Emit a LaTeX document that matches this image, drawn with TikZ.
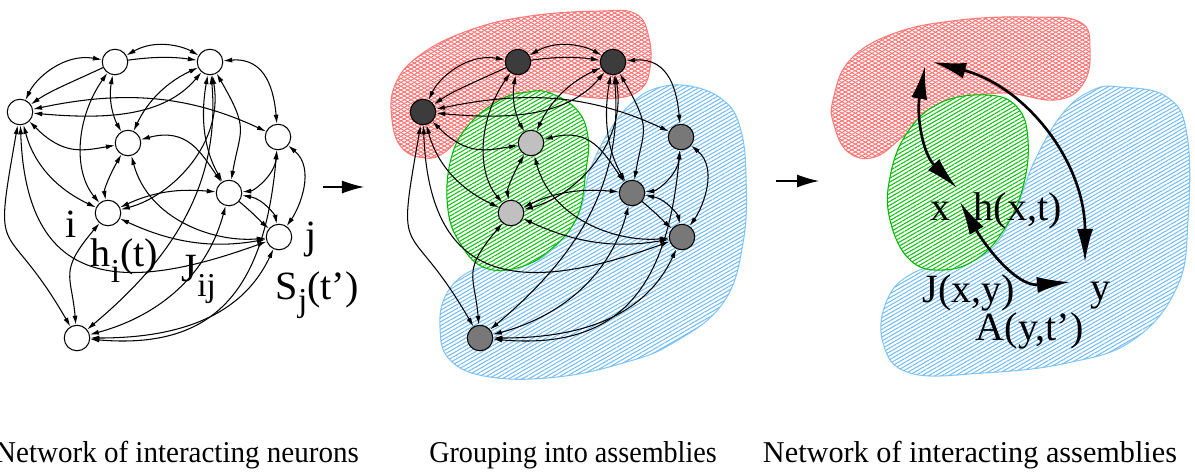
\documentclass[tikz,border=0pt]{standalone}
\usepackage{fontspec}
\setmainfont{Liberation Serif}
\usetikzlibrary{arrows.meta,patterns.meta}
\definecolor{redhatch}{RGB}{255,115,115}
\definecolor{redline}{RGB}{245,130,130}
\definecolor{greenhatch}{RGB}{10,195,10}
\definecolor{greenline}{RGB}{0,185,0}
\definecolor{bluehatch}{RGB}{115,188,240}
\definecolor{blueline}{RGB}{135,200,250}
\definecolor{darknode}{RGB}{60,60,60}
\definecolor{lightnode}{RGB}{192,192,192}
\definecolor{midnode}{RGB}{120,120,120}
\tikzset{
  nd/.style={circle, draw=black, line width=0.3pt, minimum size=0.255cm, inner sep=0pt},
  e/.style={line width=0.3pt, {Latex[length=0.09cm,width=0.05cm]}-{Latex[length=0.09cm,width=0.05cm]}},
  eone/.style={line width=0.3pt, -{Latex[length=0.09cm,width=0.05cm]}},
  bigarrow/.style={line width=0.75pt, {Latex[length=0.33cm,width=0.16cm]}-{Latex[length=0.33cm,width=0.16cm]}},
  panelarrow/.style={line width=0.35pt, -{Latex[length=0.22cm,width=0.13cm]}},
  lbl/.style={inner sep=0pt, anchor=base west, font=\fontsize{11.4pt}{13pt}\selectfont},
  captext/.style={inner sep=0pt, anchor=base, font=\fontsize{8.6pt}{10pt}\selectfont},
  redblob/.style={draw=redline, line width=0.3pt,
    postaction={pattern={Lines[angle=30,distance=0.95pt,line width=0.28pt]}, pattern color=redhatch},
    postaction={pattern={Lines[angle=-30,distance=0.95pt,line width=0.28pt]}, pattern color=redhatch}},
  blueblob/.style={draw=blueline, line width=0.3pt, fill=white,
    postaction={pattern={Lines[angle=30,distance=0.95pt,line width=0.3pt]}, pattern color=bluehatch}},
  greenblob/.style={draw=greenline, line width=0.3pt, fill=white,
    postaction={pattern={Lines[angle=30,distance=0.95pt,line width=0.3pt]}, pattern color=greenhatch}},
}
\newcommand\netedges{%
  \draw[e] (A) to[out=30,in=150] (B);
  \draw[eone] (A) to[out=8,in=172] (B);
  \draw[e] (A) to[out=170,in=65] (C);
  \draw[eone] (A) to[out=205,in=35] (C);
  \draw[e] (C) to[out=12,in=155] (E);
  \draw[e] (C) to[out=-5,in=230] (B);
  \draw[e] (C) to[out=-45,in=190,looseness=1.2] (D);
  \draw[e] (C) to[out=-100,in=120,looseness=1.7] (K);
  \draw[e] (C) to[out=-88,in=200,looseness=1.5] (H);
  \draw[e] (C) to[out=-75,in=155] (G);
  \draw[e] (A) to[out=-100,in=120] (D);
  \draw[e] (A) to[out=-125,in=130] (G);
  \draw[e] (D) to[out=-120,in=100] (G);
  \draw[e] (D) to[out=-75,in=185] (H);
  \draw[e] (G) to[out=-25,in=190] (H);
  \draw[e] (G) to[out=25,in=175] (F);
  \draw[e] (B) to[out=-80,in=15] (G);
  \draw[e] (B) to[out=-85,in=40] (K);
  \draw[e] (B) to[out=205,in=65] (D);
  \draw[e] (B) to[out=5,in=95,looseness=1.2] (E);
  \draw[e] (B) to[out=-60,in=80,looseness=1.4] (F);
  \draw[e] (B) to[out=-100,in=120] (F);
  \draw[e] (D) to[out=15,in=125,looseness=1.2] (F);
  \draw[e] (E) to[out=-95,in=5] (F);
  \draw[e] (E) to[out=-40,in=55] (H);
  \draw[e] (E) to[out=-95,in=-5,looseness=1.3] (K);
  \draw[e] (F) to[out=-10,in=100] (H);
  \draw[eone] (F) to[out=-40,in=140] (H);
  \draw[e] (G) to[out=-130,in=95,looseness=1.4] (K);
  \draw[e] (F) to[out=-105,in=15] (K);
  \draw[e] (H) to[out=-115,in=0] (K);
}
\begin{document}
\begin{tikzpicture}[x=0.01cm,y=-0.01cm]
\useasboundingbox (0,0) rectangle (1195,472);

% ---------- panel 1 ----------
\begin{scope}[name prefix=p1-]
  \node[nd,fill=white] (A) at (115,62) {};
  \node[nd,fill=white] (B) at (210,62) {};
  \node[nd,fill=white] (C) at (20,112) {};
  \node[nd,fill=white] (D) at (128,143) {};
  \node[nd,fill=white] (E) at (278,137) {};
  \node[nd,fill=white] (F) at (229,193) {};
  \node[nd,fill=white] (G) at (108,213) {};
  \node[nd,fill=white] (H) at (279,237) {};
  \node[nd,fill=white] (K) at (77,338) {};
  \netedges
\end{scope}
\node[lbl] (li) at (65,237) {i};
\node[lbl] (lh) at (90,266) {h\raisebox{-0.4em}{\fontsize{9.5pt}{10pt}\selectfont i}(t)};
\node[lbl] (lJ) at (181,281) {J\raisebox{-0.38em}{\fontsize{9.5pt}{10pt}\selectfont ij}};
\node[lbl] (lj) at (305,248) {j};
\node[lbl] (lS) at (275,299) {S\raisebox{-0.3em}{\fontsize{9.5pt}{10pt}\selectfont j}(t’)};

% ---------- arrows between panels ----------
\coordinate (ar1s) at (323,187);
\coordinate (ar1e) at (364,187);
\draw[panelarrow] (ar1s) -- (ar1e);
\coordinate (ar2s) at (776,181);
\coordinate (ar2e) at (819,181);
\draw[panelarrow] (ar2s) -- (ar2e);

% ---------- panel 2 ----------
\draw[redblob] plot[smooth cycle,tension=0.7] coordinates {(392,120) (395,85) (420,55) (470,30) (530,16) (600,11) (636,14) (649,38) (650,68) (641,89) (618,98) (585,97) (550,92) (505,102) (470,127) (445,152) (425,158) (402,148)};
\draw[blueblob] plot[smooth cycle,tension=0.7] coordinates {(657,88) (690,86) (723,100) (740,127) (746,177) (743,243) (723,303) (673,343) (623,363) (557,377) (490,377) (450,360) (440,327) (447,293) (473,270) (507,266) (543,257) (577,217) (590,170) (610,130) (632,103)};
\draw[greenblob] plot[smooth cycle,tension=0.7] coordinates {(550,93) (577,110) (588,137) (586,170) (577,217) (550,250) (517,268) (483,267) (460,243) (448,210) (450,163) (467,127) (500,100) (528,92)};
\begin{scope}[name prefix=p2-, shift={(403,0)}]
  \node[nd,fill=darknode] (A) at (115,62) {};
  \node[nd,fill=darknode] (B) at (210,62) {};
  \node[nd,fill=darknode] (C) at (20,112) {};
  \node[nd,fill=lightnode] (D) at (128,143) {};
  \node[nd,fill=midnode] (E) at (278,137) {};
  \node[nd,fill=midnode] (F) at (229,193) {};
  \node[nd,fill=lightnode] (G) at (108,213) {};
  \node[nd,fill=midnode] (H) at (279,237) {};
  \node[nd,fill=midnode] (K) at (77,338) {};
  \netedges
\end{scope}

% ---------- panel 3 ----------
\draw[redblob] plot[smooth cycle,tension=0.7] coordinates {(833,100) (850,60) (895,33) (960,20) (1030,17) (1080,22) (1090,50) (1083,84) (1055,100) (1000,93) (945,105) (905,135) (875,157) (848,152) (834,125)};
\draw[blueblob] plot[smooth cycle,tension=0.7] coordinates {(1120,87) (1167,97) (1187,135) (1188,220) (1177,287) (1133,340) (1067,363) (983,373) (910,373) (883,343) (887,300) (913,273) (955,262) (990,250) (1015,210) (1035,160) (1063,113) (1093,90)};
\draw[greenblob] plot[smooth cycle,tension=0.7] coordinates {(987,95) (1017,107) (1028,140) (1023,187) (1005,228) (978,258) (943,270) (910,260) (890,220) (890,177) (907,133) (940,103)};
\coordinate (q1) at (925,66);
\coordinate (q2) at (957,188);
\coordinate (q3) at (933,62);
\coordinate (q4) at (1085,262);
\coordinate (q5) at (960,202);
\coordinate (q6) at (1070,282);
\draw[bigarrow] (q1) to[out=-100,in=135] (q2);
\draw[bigarrow] (q3) to[out=-15,in=90] (q4);
\draw[bigarrow] (q5) to[out=-60,in=185] (q6);
\node[lbl] (lx) at (930,220) {x};
\node[lbl] (lhx) at (973,220) {h(x,t)};
\node[lbl] (lJx) at (922,302) {J(x,y)};
\node[lbl] (ly) at (1090,300) {y};
\node[lbl] (lA) at (975,340) {A(y,t’)};

% ---------- captions ----------
\node[captext] (c1) at (177,462) {\scalebox{0.96}[1]{Network of interacting neurons}};
\node[captext] (c2) at (573,462) {\scalebox{0.93}[1]{Grouping into assemblies}};
\node[captext] (c3) at (970,462) {Network of interacting assemblies};
\end{tikzpicture}
\end{document}
